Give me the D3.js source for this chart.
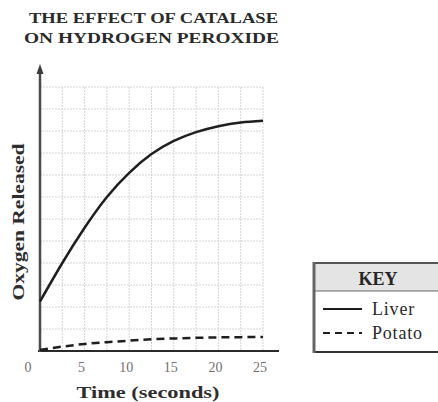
<!DOCTYPE html>
<html>
<head>
<meta charset="utf-8">
<script src="https://cdn.jsdelivr.net/npm/d3@7"></script>
<style>
  html, body { margin: 0; padding: 0; background: #fff; }
  svg { display: block; font-family: "Liberation Serif", "DejaVu Serif", serif; }
</style>
</head>
<body>
<svg id="chart" width="438" height="402"></svg>
<script>
const titleLines = ["THE EFFECT OF CATALASE", "ON HYDROGEN PEROXIDE"];
const yLabel = "Oxygen Released";
const xLabel = "Time (seconds)";
const time = [0, 2.5, 5, 7.5, 10, 12.5, 15, 17.5, 20, 22.5, 25];
const liver = [2.25, 4.0, 5.6, 7.0, 8.1, 8.95, 9.55, 9.95, 10.22, 10.39, 10.47];
const potato = [0.05, 0.2, 0.32, 0.4, 0.47, 0.53, 0.57, 0.6, 0.62, 0.63, 0.64];
const xTicks = [0, 5, 10, 15, 20, 25];
const legendTitle = "KEY";
const seriesNames = ["Liver", "Potato"];

const svg = d3.select("#chart");
const x = d3.scaleLinear().domain([0, 25]).range([40, 263]);
const y = d3.scaleLinear().domain([0, 12]).range([351, 87]);

// Title
svg.selectAll("text.title").data(titleLines).join("text")
  .attr("class", "title")
  .attr("x", (d, i) => i === 0 ? 153.5 : 151.5)
  .attr("y", (d, i) => 23 + i * 20)
  .attr("text-anchor", "middle")
  .attr("font-size", 15)
  .attr("font-weight", "bold")
  .attr("fill", "#2a2a2a")
  .attr("textLength", (d, i) => i === 0 ? 249 : 255)
  .attr("lengthAdjust", "spacingAndGlyphs")
  .text(d => d);

// Grid
const grid = svg.append("g").attr("stroke", "#d4d4d4").attr("stroke-width", 1).attr("stroke-dasharray", "2,1");
grid.selectAll("line.v").data(d3.range(1, 11).map(i => i * 2.5)).join("line")
  .attr("x1", d => x(d)).attr("x2", d => x(d))
  .attr("y1", y(12)).attr("y2", y(0));
grid.selectAll("line.h").data(d3.range(1, 13)).join("line")
  .attr("x1", x(0)).attr("x2", x(25))
  .attr("y1", d => y(d)).attr("y2", d => y(d));

// Axes
svg.append("line")
  .attr("x1", x(0) - 2).attr("x2", 279)
  .attr("y1", y(0)).attr("y2", y(0))
  .attr("stroke", "#2a2a2a").attr("stroke-width", 2);
svg.append("line")
  .attr("x1", x(0)).attr("x2", x(0))
  .attr("y1", y(0) + 1).attr("y2", 70)
  .attr("stroke", "#4a4a4a").attr("stroke-width", 2.5);
svg.append("path")
  .attr("d", `M${x(0)},64 L${x(0) - 3.5},74 L${x(0) + 3.5},74 Z`)
  .attr("fill", "#3a3a3a");

// Tick labels
svg.selectAll("text.tick").data(xTicks).join("text")
  .attr("class", "tick")
  .attr("x", d => d === 0 ? x(d) - 12 : x(d) - 3)
  .attr("y", 372)
  .attr("text-anchor", "middle")
  .attr("font-size", 14)
  .attr("fill", "#707070")
  .text(d => d);

// Axis labels
svg.append("text")
  .attr("x", 148).attr("y", 398)
  .attr("text-anchor", "middle")
  .attr("font-size", 17)
  .attr("font-weight", "bold")
  .attr("fill", "#2e2e2e")
  .attr("textLength", 143)
  .attr("lengthAdjust", "spacingAndGlyphs")
  .text(xLabel);
svg.append("text")
  .attr("transform", "translate(24,222) rotate(-90)")
  .attr("text-anchor", "middle")
  .attr("font-size", 16.5)
  .attr("font-weight", "bold")
  .attr("fill", "#2e2e2e")
  .attr("textLength", 157)
  .attr("lengthAdjust", "spacingAndGlyphs")
  .text(yLabel);

// Lines
const lineGen = d3.line().x((d, i) => x(time[i])).y(d => y(d)).curve(d3.curveNatural);
svg.append("path").datum(liver)
  .attr("d", lineGen)
  .attr("fill", "none").attr("stroke", "#1e1e1e").attr("stroke-width", 2.5);
svg.append("path").datum(potato)
  .attr("d", lineGen)
  .attr("fill", "none").attr("stroke", "#1e1e1e").attr("stroke-width", 2.5)
  .attr("stroke-dasharray", "8,5");

// Legend
const lg = svg.append("g");
lg.append("rect").attr("x", 314).attr("y", 263).attr("width", 140).attr("height", 28).attr("fill", "#e4e4e4");
lg.append("line").attr("x1", 314).attr("x2", 438).attr("y1", 263).attr("y2", 263).attr("stroke", "#555").attr("stroke-width", 2);
lg.append("line").attr("x1", 314).attr("x2", 438).attr("y1", 291).attr("y2", 291).attr("stroke", "#666").attr("stroke-width", 1);
lg.append("line").attr("x1", 314).attr("x2", 438).attr("y1", 352).attr("y2", 352).attr("stroke", "#333").attr("stroke-width", 2);
lg.append("line").attr("x1", 314).attr("x2", 314).attr("y1", 262).attr("y2", 353).attr("stroke", "#666").attr("stroke-width", 3);
lg.append("text").attr("x", 378).attr("y", 285).attr("text-anchor", "middle")
  .attr("font-size", 18).attr("font-weight", "bold").attr("fill", "#262626").text(legendTitle);
const rows = lg.selectAll("g.row").data(seriesNames).join("g")
  .attr("class", "row")
  .attr("transform", (d, i) => `translate(0,${309 + i * 24})`);
rows.append("line").attr("x1", 323).attr("x2", 362).attr("y1", 0).attr("y2", 0)
  .attr("stroke", "#1e1e1e").attr("stroke-width", 2)
  .attr("stroke-dasharray", (d, i) => i === 0 ? null : "7,5");
rows.append("text").attr("x", 372).attr("y", 6)
  .attr("font-size", 18).attr("letter-spacing", 0.8).attr("fill", "#2a2a2a")
  .text(d => d);
</script>
</body>
</html>
